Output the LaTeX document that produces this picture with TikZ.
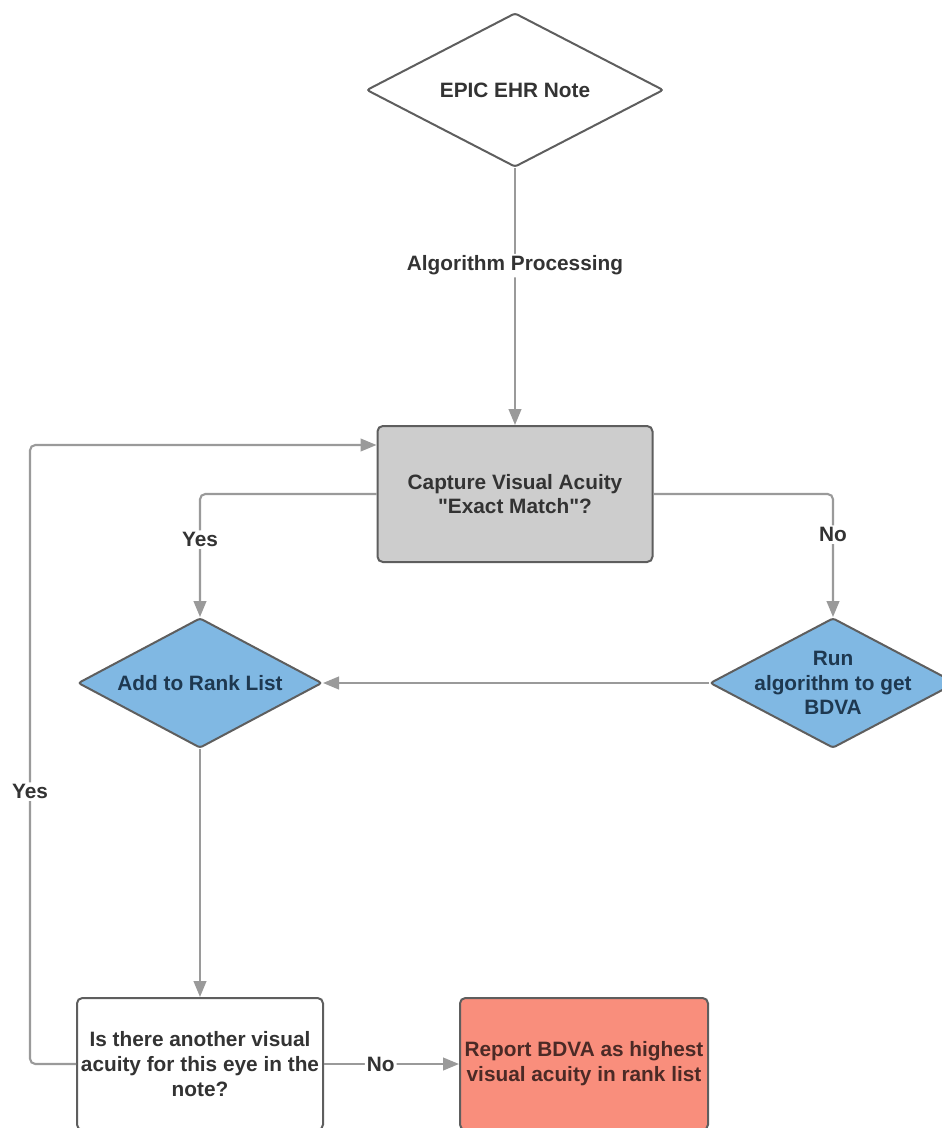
\documentclass[tikz,border=0pt]{standalone}
\usepackage{fontspec}
\setmainfont{Liberation Sans}
\usetikzlibrary{shapes.geometric,arrows.meta}

\definecolor{linegray}{HTML}{9A9A9A}
\definecolor{edgegray}{HTML}{5E5E5E}
\definecolor{txtgray}{HTML}{333333}
\definecolor{boxgray}{HTML}{CDCDCD}
\definecolor{bluefill}{HTML}{80B8E3}
\definecolor{bluetxt}{HTML}{1E3850}
\definecolor{redfill}{HTML}{F98E7C}
\definecolor{redtxt}{HTML}{4B2A26}

\begin{document}
\begin{tikzpicture}[
  x=0.75pt, y=-0.75pt,
  every node/.style={font=\fontsize{15.6}{18.6}\selectfont\bfseries, text=txtgray, align=center},
  shapebase/.style={draw=edgegray, line width=1.5pt, inner sep=0pt},
  decision/.style={shapebase, diamond, rounded corners=2pt},
  stepbox/.style={shapebase, rectangle, rounded corners=4pt},
  conn/.style={draw=linegray, line width=1.6pt, rounded corners=4pt,
    -{Triangle[length=12pt, width=9.5pt]}},
  lbl/.style={fill=white, inner sep=1.5pt}
]
\useasboundingbox (0,0) rectangle (942,1128);
\clip (0,0) rectangle (942,1128);

% nodes
\node[decision, fill=white, aspect=1.93, minimum width=222.75pt, minimum height=115.5pt]
  (note) at (515,90) {EPIC EHR Note};
\node[stepbox, fill=boxgray, minimum width=206.25pt, minimum height=102pt]
  (capture) at (515,494) {Capture Visual Acuity\\\textquotedbl Exact Match\textquotedbl?};
\node[decision, fill=bluefill, text=bluetxt, aspect=1.877, minimum width=183pt, minimum height=97.5pt]
  (rank) at (200,683) {Add to Rank List};
% the three-line text is placed as a centred label so it does not enlarge the diamond
\node[decision, fill=bluefill, aspect=1.89, minimum width=184.5pt, minimum height=97.5pt,
  label={[name=bdvatext, text=bluetxt]center:{Run\\algorithm to get\\BDVA}}]
  (bdva) at (833,683) {};
\node[stepbox, fill=white, minimum width=184.5pt, minimum height=99pt]
  (another) at (200,1064) {Is there another visual\\acuity for this eye in the\\note?};
\node[stepbox, fill=redfill, text=redtxt, minimum width=186pt, minimum height=99pt]
  (report) at (584,1064) {Report BDVA as highest\\visual acuity in rank list};

\coordinate (loop) at (30,445);

% connectors
\draw[conn] (note.south) -- node[lbl, pos=0.38] {Algorithm Processing} (capture.north);
\draw[conn] (capture.west) -| node[lbl, pos=0.685] {Yes} (rank.north);
\draw[conn] (capture.east) -| node[lbl, pos=0.665] {No} (bdva.north);
\draw[conn] (bdva.west) -- (rank.east);
\draw[conn] (rank.south) -- (another.north);
\draw[conn] (another.east) -- node[lbl, pos=0.42] {No} (report.west);
\draw[conn] (another.west) -| node[lbl, pos=0.72] {Yes} (loop) -- (capture.west |- loop);
\end{tikzpicture}
\end{document}
